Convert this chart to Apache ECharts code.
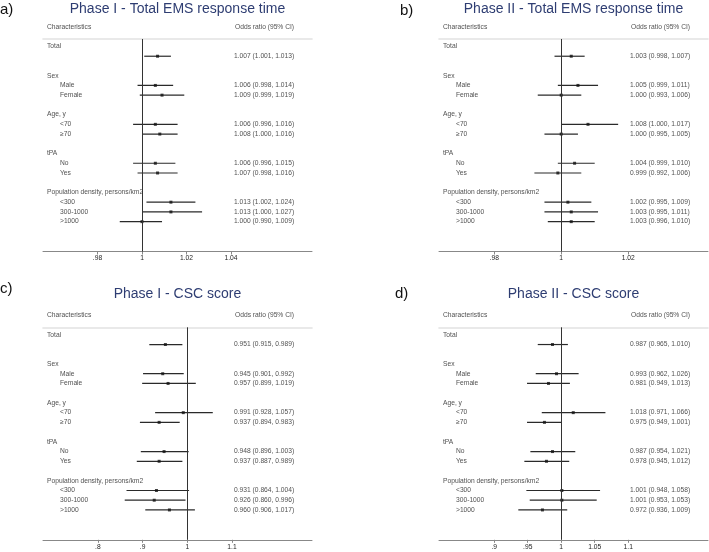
<!DOCTYPE html>
<html><head><meta charset="utf-8">
<script src="https://cdn.jsdelivr.net/npm/echarts@6/dist/echarts.min.js"></script>
<style>html,body{margin:0;padding:0;background:#fff}#c{width:709px;height:552px}</style>
</head><body><div id="c"></div>
<script>
// ---------------- DATA ----------------
const headings = ["Total", "Sex", "Age, y", "tPA", "Population density, persons/km2"];
const headingRows = [0, 3, 7, 11, 15];
const subgroups = ["", "Male", "Female", "<70", "≥70", "No", "Yes", "<300", "300-1000", ">1000"];
const valueRows = [1, 4, 5, 8, 9, 12, 13, 16, 17, 18];

const panelLetters = ["a)", "b)", "c)", "d)"];
const panelTitles = ["Phase I - Total EMS response time", "Phase II - Total EMS response time",
                     "Phase I - CSC score", "Phase II - CSC score"];
const colHeaders = ["Characteristics", "Odds ratio (95% CI)"];

const orA = [1.007, 1.006, 1.009, 1.006, 1.008, 1.006, 1.007, 1.013, 1.013, 1.000];
const loA = [1.001, 0.998, 0.999, 0.996, 1.000, 0.996, 0.998, 1.002, 1.000, 0.990];
const hiA = [1.013, 1.014, 1.019, 1.016, 1.016, 1.015, 1.016, 1.024, 1.027, 1.009];

const orB = [1.003, 1.005, 1.000, 1.008, 1.000, 1.004, 0.999, 1.002, 1.003, 1.003];
const loB = [0.998, 0.999, 0.993, 1.000, 0.995, 0.999, 0.992, 0.995, 0.995, 0.996];
const hiB = [1.007, 1.011, 1.006, 1.017, 1.005, 1.010, 1.006, 1.009, 1.011, 1.010];

const orC = [0.951, 0.945, 0.957, 0.991, 0.937, 0.948, 0.937, 0.931, 0.926, 0.960];
const loC = [0.915, 0.901, 0.899, 0.928, 0.894, 0.896, 0.887, 0.864, 0.860, 0.906];
const hiC = [0.989, 0.992, 1.019, 1.057, 0.983, 1.003, 0.989, 1.004, 0.996, 1.017];

const orD = [0.987, 0.993, 0.981, 1.018, 0.975, 0.987, 0.978, 1.001, 1.001, 0.972];
const loD = [0.965, 0.962, 0.949, 0.971, 0.949, 0.954, 0.945, 0.948, 0.953, 0.936];
const hiD = [1.010, 1.026, 1.013, 1.066, 1.001, 1.021, 1.012, 1.058, 1.053, 1.009];

const ticksA = [0.98, 1, 1.02, 1.04];
const ticksB = [0.98, 1, 1.02];
const ticksC = [0.8, 0.9, 1, 1.1];
const ticksD = [0.9, 0.95, 1, 1.05, 1.1];

// ---------------- LAYOUT ----------------
const FONT = "'Liberation Sans', Arial, Helvetica, sans-serif";
const ROW_PX = 9.73, FIRST_ROW_PX = 7.5, PLOT_H = 212.5, PLOT_W = 269;
const layouts = [
  {left: 43,  top: 39,    ref: 142,   ppu: 2225, titleY: 9,   letterX: 0,   letterY: 9.5},
  {left: 439, top: 39,    ref: 561.2, ppu: 3350, titleY: 9,   letterX: 400, letterY: 10.5},
  {left: 43,  top: 327.3, ref: 187.3, ppu: 447,  titleY: 294, letterX: 0,   letterY: 289},
  {left: 439, top: 327.3, ref: 561.2, ppu: 670,  titleY: 294, letterX: 395, letterY: 294}
];
const panels = [
  {or: orA, lo: loA, hi: hiA, ticks: ticksA},
  {or: orB, lo: loB, hi: hiB, ticks: ticksB},
  {or: orC, lo: loC, hi: hiC, ticks: ticksC},
  {or: orD, lo: loD, hi: hiD, ticks: ticksD}
];

const yMin = -FIRST_ROW_PX / ROW_PX;
const yMax = yMin + PLOT_H / ROW_PX;
const headerRow = yMin - 12.3 / ROW_PX;

const fmtTick = v => (v === 1 ? '1' : String(+v.toFixed(2)).replace(/^0\./, '.'));
const fmtCI = (o, l, h) => `${o.toFixed(3)} (${l.toFixed(3)}, ${h.toFixed(3)})`;

const grid = [], xAxis = [], yAxis = [], series = [], graphic = [];
const txt = {color: '#1c1c1c', fontSize: 6.7, fontFamily: FONT};

panels.forEach((p, i) => {
  const L = layouts[i];
  const xMin = 1 - (L.ref - L.left) / L.ppu;
  const xMax = xMin + PLOT_W / L.ppu;
  grid.push({left: L.left, top: L.top, width: PLOT_W, height: PLOT_H, containLabel: false});
  xAxis.push({
    type: 'value', gridIndex: i, min: xMin, max: xMax, position: 'bottom',
    splitLine: {show: false},
    axisLine: {show: true, onZero: false, lineStyle: {color: '#888', width: 1}},
    axisTick: {show: true, length: 3, customValues: p.ticks, lineStyle: {color: '#888', width: 1}},
    axisLabel: {show: true, customValues: p.ticks, formatter: fmtTick, margin: 3.5,
                color: '#1c1c1c', fontSize: 6.7, fontFamily: FONT}
  });
  xAxis.push({
    type: 'value', gridIndex: i, min: xMin, max: xMax, position: 'top',
    splitLine: {show: false},
    axisLine: {show: true, onZero: false, lineStyle: {color: '#e2e2e2', width: 1.6}},
    axisTick: {show: false}, axisLabel: {show: false}
  });
  yAxis.push({type: 'value', gridIndex: i, inverse: true, min: yMin, max: yMax, show: false,
              axisLine: {onZero: false}});

  const xb = 2 * i;
  // confidence intervals
  series.push({
    type: 'custom', xAxisIndex: xb, yAxisIndex: i, silent: true,
    data: p.lo.map((l, k) => [l, p.hi[k], valueRows[k]]),
    encode: {x: [0, 1], y: 2},
    renderItem: (params, api) => {
      const a = api.coord([api.value(0), api.value(2)]);
      const b = api.coord([api.value(1), api.value(2)]);
      return {type: 'line', shape: {x1: a[0], y1: a[1], x2: b[0], y2: b[1]},
              style: {stroke: '#2a2a2a', lineWidth: 1.2}};
    }
  });
  // point estimates + reference line
  series.push({
    type: 'scatter', xAxisIndex: xb, yAxisIndex: i, silent: true,
    symbol: 'rect', symbolSize: 3, itemStyle: {color: '#111'},
    data: p.or.map((o, k) => [o, valueRows[k]]),
    markLine: {silent: true, symbol: 'none', label: {show: false},
               lineStyle: {color: '#333', width: 1, type: 'solid'},
               data: [{xAxis: 1}]}
  });
  // heading labels
  series.push({
    type: 'scatter', xAxisIndex: xb, yAxisIndex: i, silent: true, symbolSize: 0,
    data: headings.map((h, k) => ({value: [xMin, headingRows[k]], name: h})),
    label: {show: true, position: 'right', distance: 0, offset: [4, 0], formatter: '{b}', ...txt}
  });
  // subgroup labels
  series.push({
    type: 'scatter', xAxisIndex: xb, yAxisIndex: i, silent: true, symbolSize: 0,
    data: subgroups.map((s, k) => ({value: [xMin, valueRows[k]], name: s})),
    label: {show: true, position: 'right', distance: 0, offset: [17, 0], formatter: '{b}', ...txt}
  });
  // OR text column
  series.push({
    type: 'scatter', xAxisIndex: xb, yAxisIndex: i, silent: true, symbolSize: 0,
    data: p.or.map((o, k) => ({value: [xMin, valueRows[k]], name: fmtCI(o, p.lo[k], p.hi[k])})),
    label: {show: true, position: 'right', distance: 0, offset: [191, 0], formatter: '{b}', ...txt}
  });
  // column headers
  series.push({
    type: 'scatter', xAxisIndex: xb, yAxisIndex: i, silent: true, symbolSize: 0, clip: false,
    data: [
      {value: [xMin, headerRow], name: colHeaders[0], label: {offset: [4, 0]}},
      {value: [xMin, headerRow], name: colHeaders[1], label: {offset: [192, 0]}}
    ],
    label: {show: true, position: 'right', distance: 0, formatter: '{b}', ...txt}
  });

  graphic.push({
    type: 'text', x: L.left + PLOT_W / 2, y: L.titleY, silent: true,
    style: {text: panelTitles[i], fill: '#2e3d72', fontSize: 14, fontFamily: FONT,
            textAlign: 'center', textVerticalAlign: 'middle'}
  });
  graphic.push({
    type: 'text', x: L.letterX, y: L.letterY, silent: true,
    style: {text: panelLetters[i], fill: '#111', fontSize: 15, fontFamily: FONT,
            textAlign: 'left', textVerticalAlign: 'middle'}
  });
});

const chart = echarts.init(document.getElementById('c'), null, {renderer: 'canvas'});
chart.setOption({
  animation: false,
  backgroundColor: '#fff',
  grid, xAxis, yAxis, series, graphic
});
</script>
</body></html>
